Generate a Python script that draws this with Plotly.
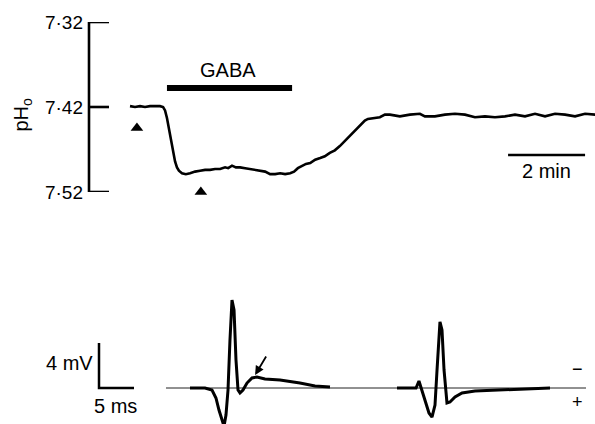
import plotly.graph_objects as go

# ---------------- data: pH trace (time in min, pH) ----------------
ph_time = [0.00, 0.13, 0.26, 0.39, 0.52, 0.65, 0.78, 0.86, 0.91, 0.96, 1.01, 1.06, 1.12, 1.17,
           1.22, 1.27, 1.35, 1.45, 1.56, 1.69, 1.82, 1.95, 2.08, 2.21, 2.34, 2.47, 2.55, 2.65,
           2.75, 2.86, 2.99, 3.12, 3.25, 3.38, 3.51, 3.64, 3.77, 3.90, 4.03, 4.16, 4.26, 4.36,
           4.47, 4.57, 4.68, 4.81, 4.94, 5.06, 5.19, 5.32, 5.45, 5.58, 5.71, 5.84, 5.97, 6.10,
           6.18, 6.36, 6.49, 6.62, 6.75, 7.01, 7.27, 7.53, 7.66, 7.92, 8.18, 8.44, 8.70, 8.96,
           9.22, 9.48, 9.74, 10.00, 10.26, 10.52, 10.78, 11.04, 11.30, 11.56, 11.82, 12.08]
ph_value = [7.419, 7.420, 7.419, 7.420, 7.419, 7.419, 7.419, 7.420, 7.424, 7.433, 7.445, 7.459,
            7.473, 7.484, 7.491, 7.495, 7.498, 7.499, 7.498, 7.496, 7.495, 7.494, 7.494, 7.493,
            7.493, 7.491, 7.492, 7.489, 7.491, 7.491, 7.492, 7.493, 7.494, 7.495, 7.496, 7.499,
            7.499, 7.498, 7.499, 7.498, 7.496, 7.492, 7.489, 7.487, 7.486, 7.482, 7.480, 7.478,
            7.474, 7.471, 7.466, 7.460, 7.455, 7.449, 7.442, 7.436, 7.434, 7.433, 7.432, 7.429,
            7.429, 7.431, 7.429, 7.428, 7.431, 7.431, 7.429, 7.428, 7.429, 7.432, 7.431, 7.432,
            7.431, 7.429, 7.431, 7.428, 7.431, 7.428, 7.429, 7.431, 7.428, 7.429]

ph_ticks = [7.32, 7.42, 7.52]
ph_ticktext = ["7·32", "7·42", "7·52"]

gaba_start, gaba_end, gaba_level = 0.96, 4.21, 7.3976
arrowhead_t = [0.18, 1.84]
arrowhead_ph = [7.4447, 7.5200]
minbar_start, minbar_end, minbar_level = 9.82, 11.82, 7.4765

# ---------------- data: extracellular spikes (ms, mV) ----------------
spike1_ms = [13.0, 15.14, 16.14, 16.71, 17.14, 17.57, 17.86, 18.14, 18.43, 18.71, 19.0, 19.29,
             19.57, 19.86, 20.14, 20.57, 21.14, 21.86, 22.57, 23.71, 25.86, 28.71, 30.86, 33.0]
spike1_mv = [0.0, 0.0, -0.18, -0.89, -1.96, -2.84, -3.4, -2.4, -0.18, 4.27, 7.82, 6.93,
             2.49, -0.18, -0.44, -0.18, 0.44, 0.89, 0.98, 0.80, 0.71, 0.44, 0.18, 0.09]
spike2_ms = [42.57, 45.29, 45.71, 46.0, 46.57, 47.14, 47.57, 48.0, 48.29, 48.57, 48.71, 49.0,
             49.29, 49.71, 50.14, 50.86, 51.86, 53.71, 57.29, 61.57, 64.43]
spike2_mv = [0.0, 0.0, 0.62, 0.0, -1.24, -2.22, -2.58, -1.51, 1.6, 5.16, 5.87, 5.16,
             1.6, -1.33, -1.24, -0.8, -0.44, -0.27, -0.18, -0.09, 0.0]
zero_ms = [9.57, 69.57]
zero_mv = [0.0, 0.0]
scale_ms = [0.0, 0.0, 5.0]
scale_mv = [4.0, 0.0, 0.0]

W, H = 595, 424
FONT = "Liberation Sans, Arial, Helvetica, sans-serif"
PX_PER_MIN = 38.5
AXIS_T = (89 - 130) / PX_PER_MIN   # time coordinate of the pH axis line
TICK_LEN_T = 20 / PX_PER_MIN

fig = go.Figure()

# pH axis bracket (axis line + ticks pointing right), drawn on the pH scale
for tv in ph_ticks:
    fig.add_trace(go.Scatter(x=[AXIS_T, AXIS_T + TICK_LEN_T], y=[tv, tv], mode="lines",
                             line=dict(color="black", width=2.6), xaxis="x", yaxis="y",
                             cliponaxis=False, hoverinfo="skip"))
fig.add_trace(go.Scatter(x=[AXIS_T, AXIS_T], y=[ph_ticks[0], ph_ticks[-1]], mode="lines",
                         line=dict(color="black", width=2.6), xaxis="x", yaxis="y",
                         cliponaxis=False, hoverinfo="skip"))

# pH trace
fig.add_trace(go.Scatter(x=ph_time, y=ph_value, mode="lines",
                         line=dict(color="black", width=2.6), xaxis="x", yaxis="y",
                         hoverinfo="skip"))
# GABA bar
fig.add_trace(go.Scatter(x=[gaba_start, gaba_end], y=[gaba_level, gaba_level], mode="lines",
                         line=dict(color="black", width=6), xaxis="x", yaxis="y", cliponaxis=False))
# 2 min scale bar
fig.add_trace(go.Scatter(x=[minbar_start, minbar_end], y=[minbar_level, minbar_level], mode="lines",
                         line=dict(color="black", width=2.5), xaxis="x", yaxis="y", cliponaxis=False))
# arrowheads
fig.add_trace(go.Scatter(x=arrowhead_t, y=arrowhead_ph, mode="markers",
                         marker=dict(symbol="triangle-up", size=11, color="black"),
                         xaxis="x", yaxis="y", cliponaxis=False))

# spikes
fig.add_trace(go.Scatter(x=zero_ms, y=zero_mv, mode="lines",
                         line=dict(color="#222", width=1.0), xaxis="x2", yaxis="y2"))
fig.add_trace(go.Scatter(x=spike1_ms, y=spike1_mv, mode="lines",
                         line=dict(color="black", width=3), xaxis="x2", yaxis="y2"))
fig.add_trace(go.Scatter(x=spike2_ms, y=spike2_mv, mode="lines",
                         line=dict(color="black", width=3), xaxis="x2", yaxis="y2"))
fig.add_trace(go.Scatter(x=scale_ms, y=scale_mv, mode="lines",
                         line=dict(color="black", width=2.5), xaxis="x2", yaxis="y2",
                         cliponaxis=False))

annotations = [
    dict(text="GABA", x=(gaba_start + gaba_end) / 2 - 0.05, y=7.3765, xref="x", yref="y",
         showarrow=False, font=dict(size=20, family=FONT, color="black")),
    dict(text="2 min", x=(minbar_start + minbar_end) / 2, y=7.4953, xref="x", yref="y",
         showarrow=False, font=dict(size=20, family=FONT, color="black")),
    dict(text="pH<sub>o</sub>", x=8 / W, y=1 - 96 / H, xref="paper", yref="paper",
         textangle=-90, showarrow=False, font=dict(size=20, family=FONT, color="black")),
    dict(text="4 mV", x=-0.6, y=2.2, xref="x2", yref="y2", xanchor="right",
         showarrow=False, font=dict(size=20, family=FONT, color="black")),
    dict(text="5 ms", x=2.3, y=-1.6, xref="x2", yref="y2",
         showarrow=False, font=dict(size=20, family=FONT, color="black")),
    dict(text="−", x=68.3, y=1.65, xref="x2", yref="y2",
         showarrow=False, font=dict(size=18, family=FONT, color="black")),
    dict(text="+", x=68.3, y=-1.25, xref="x2", yref="y2",
         showarrow=False, font=dict(size=18, family=FONT, color="black")),
    dict(text="", x=22.3, y=1.16, xref="x2", yref="y2", ax=24.0, ay=2.93,
         axref="x2", ayref="y2", showarrow=True, arrowhead=2, arrowsize=1,
         arrowwidth=1.8, arrowcolor="black"),
]

fig.update_layout(
    width=W, height=H, margin=dict(l=0, r=0, t=0, b=0, autoexpand=False),
    paper_bgcolor="white", plot_bgcolor="rgba(0,0,0,0)",
    showlegend=False,
    xaxis=dict(domain=[0, 1], range=[-130 / PX_PER_MIN, (W - 130) / PX_PER_MIN], visible=False,
               anchor="y", automargin=False),
    yaxis=dict(domain=[(H - 192) / H, (H - 22) / H], range=[7.52, 7.32],
               anchor="free", position=89 / W, showline=False, ticks="",
               tickvals=ph_ticks, ticktext=ph_ticktext, showgrid=False, zeroline=False,
               tickfont=dict(size=19, family=FONT, color="black"), ticklabelstandoff=6,
               automargin=False),
    xaxis2=dict(domain=[0, 1], range=[-99 / 7, (W - 99) / 7], visible=False, anchor="y2",
                automargin=False),
    yaxis2=dict(domain=[0, 1], range=[(388 - H) / 11.25, 388 / 11.25], visible=False,
                anchor="x2", automargin=False),
    annotations=annotations,
)

fig.write_html("out.html")
